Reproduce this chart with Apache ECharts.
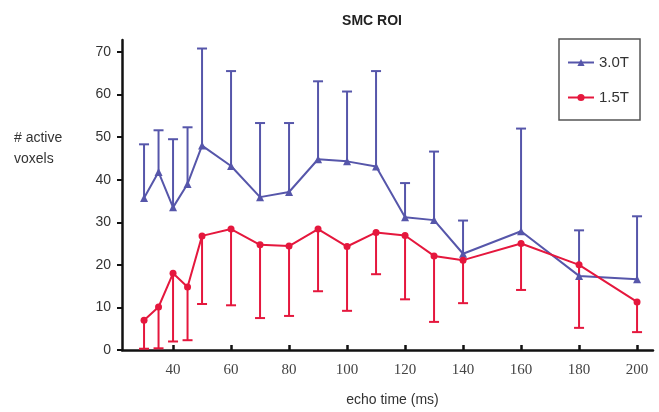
<!DOCTYPE html>
<html><head><meta charset="utf-8">
<script src="https://cdn.jsdelivr.net/npm/echarts@6/dist/echarts.min.js"></script>
<style>html,body{margin:0;padding:0;background:#fff}#c{width:659px;height:412px}</style>
</head><body><div id="c"></div>
<script>
var echoTimes = [30,35,40,45,50,60,70,80,90,100,110,120,130,140,160,180,200];
var t3Mean  = [35.7,41.8,33.5,39.0,48.0,43.2,35.9,37.1,44.8,44.3,43.1,31.2,30.5,22.6,27.9,17.4,16.6];
var t3Upper = [48.3,51.6,49.5,52.3,70.8,65.5,53.3,53.3,63.1,60.7,65.5,39.2,46.6,30.4,52.0,28.1,31.4];
var t15Mean  = [7.0,10.1,18.0,14.8,26.8,28.4,24.7,24.4,28.4,24.3,27.6,26.9,22.1,21.1,25.0,20.0,11.3];
var t15Lower = [0.3,0.4,2.0,2.3,10.8,10.5,7.5,8.0,13.8,9.2,17.8,11.9,6.6,11.0,14.1,5.2,4.2];
var xTicks = [40,60,80,100,120,140,160,180,200];
var yTicks = [0,10,20,30,40,50,60,70];

var BLUE = '#5656aa', RED = '#e5173d';

function pairs(xs, ys){ return xs.map(function(x,i){ return [x, ys[i]]; }); }
function errData(xs, a, b){ return xs.map(function(x,i){ return [x, a[i], b[i]]; }); }

function errRender(color){
  return function(params, api){
    var x = api.value(0), a = api.value(1), b = api.value(2);
    var p1 = api.coord([x, a]), p2 = api.coord([x, b]);
    var hw = 5;
    return {
      type: 'group',
      children: [
        {type:'line', shape:{x1:p1[0], y1:p1[1], x2:p2[0], y2:p2[1]}, style:{stroke:color, lineWidth:2}},
        {type:'line', shape:{x1:p2[0]-hw, y1:p2[1], x2:p2[0]+hw, y2:p2[1]}, style:{stroke:color, lineWidth:2}}
      ]
    };
  };
}

var chart = echarts.init(document.getElementById('c'), null, {renderer:'canvas'});
chart.setOption({
  animation: false,
  backgroundColor: '#fff',
  title: {
    text: 'SMC ROI', left: 367, top: 9, textAlign: 'center',
    textStyle: {fontFamily: 'Liberation Sans, Arial, sans-serif', fontSize: 14, fontWeight: 'bold', color: '#222'}
  },
  legend: {
    orient: 'vertical', left: 559, top: 39,
    padding: [16, 11, 15, 8], itemGap: 20, itemWidth: 26, itemHeight: 9,
    borderColor: '#555', borderWidth: 1.5,
    textStyle: {fontFamily: 'Liberation Sans, Arial, sans-serif', fontSize: 15, color: '#333'},
    data: ['3.0T', '1.5T']
  },
  grid: {left: 122, right: 6, top: 40, bottom: 62},
  xAxis: {
    type: 'value', min: 22.4, max: 205.5,
    name: 'echo time (ms)', nameLocation: 'middle', nameGap: 43,
    nameTextStyle: {fontFamily: 'Liberation Sans, Arial, sans-serif', fontSize: 14, color: '#333', padding: [0,0,0,10]},
    axisLine: {onZero: false, lineStyle: {color: '#111', width: 2.5}},
    axisTick: {inside: true, length: 5, customValues: xTicks, lineStyle: {color: '#111', width: 2.5}},
    axisLabel: {customValues: xTicks, margin: 13, fontFamily: 'Liberation Serif, Times New Roman, serif', fontSize: 15, color: '#444'},
    splitLine: {show: false}
  },
  yAxis: {
    type: 'value', min: 0, max: 72.8,
    axisLine: {show: true, lineStyle: {color: '#111', width: 2.5}},
    axisTick: {show: true, inside: false, length: 5, customValues: yTicks, lineStyle: {color: '#111', width: 2}},
    axisLabel: {customValues: yTicks, margin: 11, fontFamily: 'Liberation Sans, Arial, sans-serif', fontSize: 14, color: '#333'},
    splitLine: {show: false}
  },
  graphic: [{
    type: 'text', left: 14, top: 128,
    style: {text: '# active\nvoxels', fontFamily: 'Liberation Sans, Arial, sans-serif', fontSize: 14, lineHeight: 21, fill: '#333'}
  }],
  series: [
    {type: 'custom', name: '3.0T err', data: errData(echoTimes, t3Mean, t3Upper), renderItem: errRender(BLUE), z: 2, silent: true},
    {type: 'custom', name: '1.5T err', data: errData(echoTimes, t15Mean, t15Lower), renderItem: errRender(RED), z: 2, silent: true},
    {type: 'line', name: '3.0T', data: pairs(echoTimes, t3Mean), color: BLUE, symbol: 'triangle', symbolSize: 8,
     lineStyle: {width: 2, color: BLUE}, itemStyle: {color: BLUE}, z: 3},
    {type: 'line', name: '1.5T', data: pairs(echoTimes, t15Mean), color: RED, symbol: 'circle', symbolSize: 7,
     lineStyle: {width: 2, color: RED}, itemStyle: {color: RED}, z: 3}
  ]
});
</script>
</body></html>
